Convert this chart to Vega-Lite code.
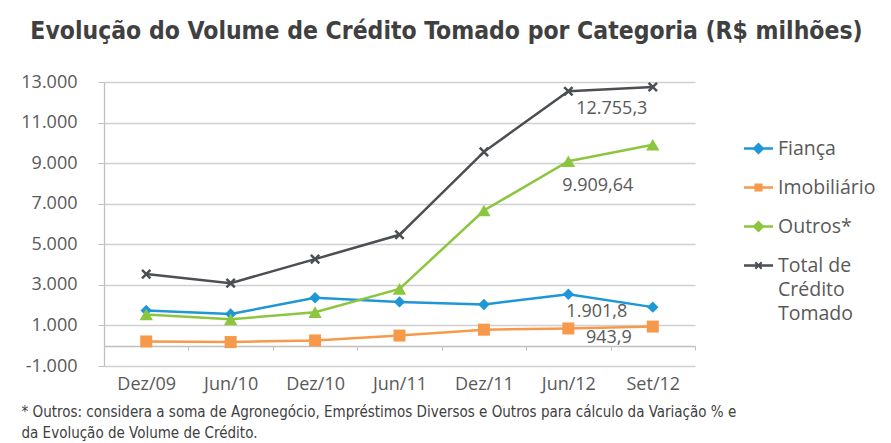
{
  "$schema": "https://vega.github.io/schema/vega-lite/v6.json",
  "width": 591,
  "height": 284,
  "autosize": "none",
  "padding": {"left": 104, "top": 82, "right": 196, "bottom": 77},
  "background": "white",
  "title": {
    "text": "Evolução do Volume de Crédito Tomado por Categoria (R$ milhões)",
    "font": "Liberation Sans Narrow, DejaVu Sans Condensed, Roboto",
    "fontSize": 24.5,
    "fontWeight": "bold",
    "color": "#404040",
    "anchor": "middle",
    "frame": "group",
    "dx": 47,
    "offset": 10,
    "baseline": "alphabetic"
  },
  "config": {
    "locale": {"number": {"decimal": ",", "thousands": ".", "grouping": [3], "currency": ["R$ ", ""], "minus": "-"}},
    "view": {"stroke": null},
    "axis": {"labelFont": "Open Sans", "labelColor": "#595959", "labelFontSize": 18, "domainColor": "#bfbfbf", "tickColor": "#bfbfbf", "gridColor": "#d0d0d0", "gridWidth": 1.3, "domainWidth": 1.3}
  },
  "data": {
    "values": [
      {"periodo": "Dez/09", "serie": "Fiança", "valor": 1740},
      {"periodo": "Jun/10", "serie": "Fiança", "valor": 1560},
      {"periodo": "Dez/10", "serie": "Fiança", "valor": 2365},
      {"periodo": "Jun/11", "serie": "Fiança", "valor": 2160},
      {"periodo": "Dez/11", "serie": "Fiança", "valor": 2035},
      {"periodo": "Jun/12", "serie": "Fiança", "valor": 2540},
      {"periodo": "Set/12", "serie": "Fiança", "valor": 1901.8, "rotulo": "1.901,8"},
      {"periodo": "Dez/09", "serie": "Imobiliário", "valor": 210},
      {"periodo": "Jun/10", "serie": "Imobiliário", "valor": 180},
      {"periodo": "Dez/10", "serie": "Imobiliário", "valor": 260},
      {"periodo": "Jun/11", "serie": "Imobiliário", "valor": 500},
      {"periodo": "Dez/11", "serie": "Imobiliário", "valor": 790},
      {"periodo": "Jun/12", "serie": "Imobiliário", "valor": 850},
      {"periodo": "Set/12", "serie": "Imobiliário", "valor": 943.9, "rotulo": "943,9"},
      {"periodo": "Dez/09", "serie": "Outros*", "valor": 1540},
      {"periodo": "Jun/10", "serie": "Outros*", "valor": 1300},
      {"periodo": "Dez/10", "serie": "Outros*", "valor": 1655},
      {"periodo": "Jun/11", "serie": "Outros*", "valor": 2800},
      {"periodo": "Dez/11", "serie": "Outros*", "valor": 6665},
      {"periodo": "Jun/12", "serie": "Outros*", "valor": 9094},
      {"periodo": "Set/12", "serie": "Outros*", "valor": 9909.64, "rotulo": "9.909,64"},
      {"periodo": "Dez/09", "serie": "Total de Crédito Tomado", "valor": 3530},
      {"periodo": "Jun/10", "serie": "Total de Crédito Tomado", "valor": 3085},
      {"periodo": "Dez/10", "serie": "Total de Crédito Tomado", "valor": 4270},
      {"periodo": "Jun/11", "serie": "Total de Crédito Tomado", "valor": 5468},
      {"periodo": "Dez/11", "serie": "Total de Crédito Tomado", "valor": 9557},
      {"periodo": "Jun/12", "serie": "Total de Crédito Tomado", "valor": 12542},
      {"periodo": "Set/12", "serie": "Total de Crédito Tomado", "valor": 12755.3, "rotulo": "12.755,3"}
    ]
  },
  "encoding": {
    "x": {
      "field": "periodo",
      "type": "ordinal",
      "sort": ["Dez/09", "Jun/10", "Dez/10", "Jun/11", "Dez/11", "Jun/12", "Set/12"],
      "scale": {"type": "band", "paddingInner": 0, "paddingOuter": 0},
      "bandPosition": 0.5,
      "axis": {
        "offset": -20,
        "labelAngle": 0,
        "tickBand": "extent",
        "tickSize": 4,
        "labelPadding": 25,
        "labelBaseline": "top",
        "grid": false,
        "title": ["* Outros: considera a soma de Agronegócio, Empréstimos Diversos e Outros para cálculo da Variação % e", "da Evolução de Volume de Crédito."],
        "titleFont": "Liberation Sans Narrow, DejaVu Sans Condensed, Roboto",
        "titleFontSize": 15,
        "titleFontWeight": "normal",
        "titleColor": "#404040",
        "titleAnchor": "start",
        "titleAlign": "left",
        "titleBaseline": "alphabetic",
        "titleLineHeight": 21,
        "titleX": -83,
        "titleY": 70
      }
    },
    "y": {
      "field": "valor",
      "type": "quantitative",
      "scale": {"domain": [-1000, 13000], "nice": false, "zero": false},
      "axis": {
        "values": [-1000, 1000, 3000, 5000, 7000, 9000, 11000, 13000],
        "format": ",d",
        "title": null,
        "tickSize": 6,
        "labelPadding": 21
      }
    },
    "color": {
      "field": "serie",
      "type": "nominal",
      "scale": {
        "domain": ["Fiança", "Imobiliário", "Outros*", "Total de Crédito Tomado"],
        "range": ["#1f96d6", "#f7994a", "#8cc63f", "#4b4f53"]
      },
      "legend": {
        "orient": "none",
        "legendX": 640,
        "legendY": 52,
        "title": null,
        "labelFont": "Open Sans",
        "labelFontSize": 19.5,
        "labelColor": "#595959",
        "labelOffset": 5,
        "labelLimit": 300,
        "rowPadding": 15,
        "symbolSize": 841,
        "symbolStrokeWidth": 0,
        "labelExpr": "datum.label === 'Total de Crédito Tomado' ? ['Total de', 'Crédito', 'Tomado'] : datum.label",
        "encode": {
          "labels": {
            "update": {
              "lineHeight": {"value": 24}
            }
          },
          "symbols": {
            "update": {
              "shape": {"signal": "datum.value === 'Imobiliário' ? 'M-1,-0.08H1V0.08H-1Z M-0.28,-0.28H0.28V0.28H-0.28Z' : datum.value === 'Total de Crédito Tomado' ? 'M-1,-0.08H1V0.08H-1Z M-0.27,-0.17L-0.17,-0.27L0.27,0.17L0.17,0.27Z M-0.17,0.27L-0.27,0.17L0.17,-0.27L0.27,-0.17Z' : 'M-1,-0.08H1V0.08H-1Z M0,-0.42L0.42,0L0,0.42L-0.42,0Z'"},
              "size": {"value": 841},
              "fill": {"signal": "scale('color', datum.value)"},
              "opacity": {"value": 1},
              "fillOpacity": {"value": 1},
              "strokeWidth": {"value": 0}
            }
          }
        }
      }
    }
  },
  "layer": [
    {"mark": {"type": "line", "strokeWidth": 2.5}},
    {
      "transform": [{"filter": "datum.serie === 'Fiança'"}],
      "mark": {"type": "point", "filled": true, "opacity": 1, "shape": "diamond", "size": 130}
    },
    {
      "transform": [{"filter": "datum.serie === 'Imobiliário'"}],
      "mark": {"type": "point", "filled": true, "opacity": 1, "shape": "square", "size": 144}
    },
    {
      "transform": [{"filter": "datum.serie === 'Outros*'"}],
      "mark": {"type": "point", "filled": true, "opacity": 1, "shape": "triangle-up", "size": 180}
    },
    {
      "transform": [{"filter": "datum.serie === 'Total de Crédito Tomado'"}],
      "mark": {"type": "point", "filled": false, "opacity": 1, "shape": "M-1,-1L1,1M-1,1L1,-1", "size": 70, "strokeWidth": 2.5}
    },
    {
      "transform": [{"filter": "datum.serie === 'Total de Crédito Tomado' && datum.rotulo"}],
      "mark": {"type": "text", "font": "Open Sans", "fontSize": 18, "dx": -41, "dy": 22, "baseline": "middle"},
      "encoding": {"text": {"field": "rotulo"}, "color": {"value": "#595959"}}
    },
    {
      "transform": [{"filter": "datum.serie === 'Outros*' && datum.rotulo"}],
      "mark": {"type": "text", "font": "Open Sans", "fontSize": 18, "dx": -55, "dy": 41, "baseline": "middle"},
      "encoding": {"text": {"field": "rotulo"}, "color": {"value": "#595959"}}
    },
    {
      "transform": [{"filter": "datum.serie === 'Fiança' && datum.rotulo"}],
      "mark": {"type": "text", "font": "Open Sans", "fontSize": 18, "dx": -56, "dy": 5, "baseline": "middle"},
      "encoding": {"text": {"field": "rotulo"}, "color": {"value": "#595959"}}
    },
    {
      "transform": [{"filter": "datum.serie === 'Imobiliário' && datum.rotulo"}],
      "mark": {"type": "text", "font": "Open Sans", "fontSize": 18, "dx": -44, "dy": 11, "baseline": "middle"},
      "encoding": {"text": {"field": "rotulo"}, "color": {"value": "#595959"}}
    }
  ]
}
